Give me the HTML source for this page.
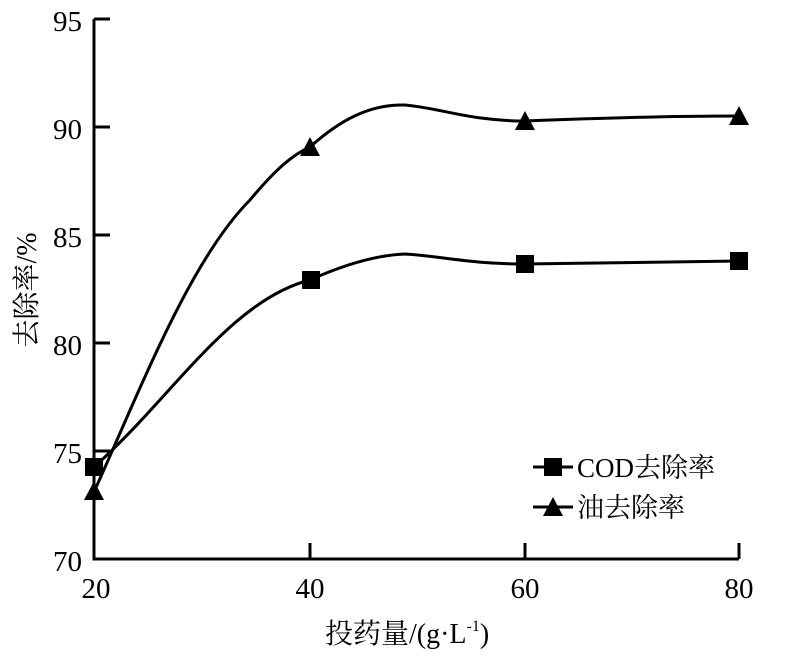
<!DOCTYPE html>
<html><head><meta charset="utf-8"><style>
body{margin:0;background:#fff}
svg text{font-family:"Liberation Serif","Noto Serif CJK SC",serif;fill:#000}
</style></head><body>
<svg width="798" height="657" xmlns="http://www.w3.org/2000/svg">
<g stroke="#000" stroke-width="3" fill="none">
<path d="M94,19 V559 H739"/>
<path d="M94,19 H110 M94,127 H110 M94,235 H110 M94,343 H110 M94,451 H110"/>
<path d="M310,559 V543 M525,559 V543 M739,559 V543"/>
<path d="M94,467 C170,400 230,300 310,280 C350,262 380,255 405,254 C440,256 470,264 525,264 C600,263 680,262 739,261"/>
<path d="M94,492 C140,390 190,260 250,200 C275,170 292,155 310,147 C340,120 370,104 405,105 C440,108 470,121 525,121 C600,118 680,116 739,116"/>
<path d="M533,467 H573 M533,507 H573"/>
</g>
<g fill="#000">
<rect x="85" y="458" width="18" height="18"/>
<rect x="302" y="271" width="18" height="18"/>
<rect x="516" y="255" width="18" height="18"/>
<rect x="730" y="252" width="18" height="18"/>
<rect x="544" y="458" width="18" height="18"/>
<path d="M94,481 L104,500 L84,500Z"/>
<path d="M310,137 L320,156 L300,156Z"/>
<path d="M525,111 L535,130 L515,130Z"/>
<path d="M739,106 L749,125 L729,125Z"/>
<path d="M553,497 L563,516 L543,516Z"/>
</g>
<g font-size="29" text-anchor="end">
<text x="82" y="31">95</text><text x="82" y="139">90</text><text x="82" y="247">85</text>
<text x="82" y="355">80</text><text x="82" y="463">75</text><text x="82" y="571">70</text>
</g>
<g font-size="29" text-anchor="middle">
<text x="96" y="598">20</text><text x="310" y="598">40</text><text x="525" y="598">60</text><text x="739" y="598">80</text>
</g>
<text x="325" y="643" font-size="28">投药量/(g·L<tspan font-size="16" dy="-12">-1</tspan><tspan dy="12">)</tspan></text>
<text transform="translate(36,290) rotate(-90)" font-size="28" text-anchor="middle">去除率/%</text>
<text x="577" y="477" font-size="27">COD去除率</text>
<text x="577" y="517" font-size="27">油去除率</text>
</svg>
</body></html>
